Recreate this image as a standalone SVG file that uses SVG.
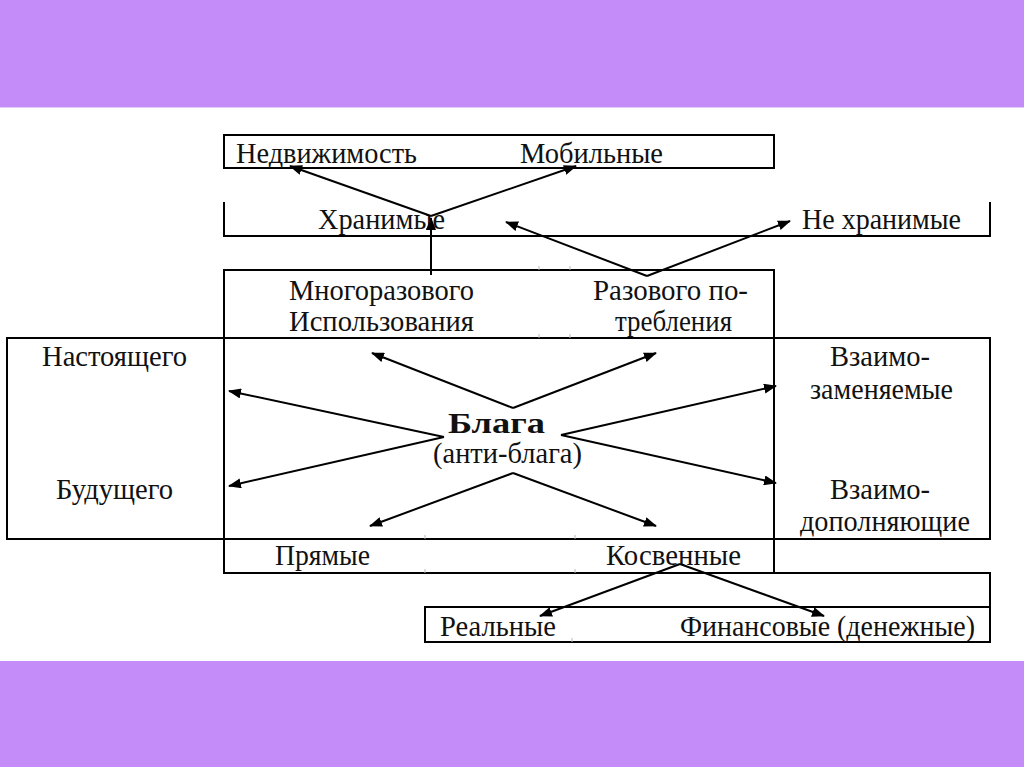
<svg xmlns="http://www.w3.org/2000/svg" width="1024" height="767" viewBox="0 0 1024 767">
<defs>
<style>
.band{fill:#c48cf8}
.grid{stroke:#000;stroke-width:2;fill:none}
.tick{stroke:#b8b8b8;stroke-width:1}
.t{font-family:"Liberation Serif","Times New Roman",serif;font-size:29px;fill:#111}
.b{font-weight:bold}
.c{stroke:#000;stroke-width:2;fill:none;marker-end:url(#ah)}
</style>
<marker id="ah" viewBox="0 0 13 10" refX="12" refY="5" markerWidth="13" markerHeight="10" markerUnits="userSpaceOnUse" orient="auto">
<path d="M0,0 L13,5 L0,10 Z" fill="#000"/>
</marker>
</defs>
<rect width="1024" height="767" fill="#fff"/>
<rect class="band" x="0" y="0" width="1024" height="107"/>
<line x1="0" y1="107.5" x2="1024" y2="107.5" stroke="#e2cbfb" stroke-width="1"/>
<rect class="band" x="0" y="661" width="1024" height="106"/>

<g id="frame">
<rect class="grid" x="224" y="135" width="550" height="33"/>
<path class="grid" d="M224,202 V236 H990 V202"/>
<path class="grid" d="M224,338 V270 H774 V338"/>
<rect class="grid" x="7" y="338" width="983" height="201"/>
<line class="grid" x1="224" y1="338" x2="224" y2="539"/>
<line class="grid" x1="774" y1="338" x2="774" y2="539"/>
<path class="grid" d="M224,539 V573 H990 V642 H425 V607 H990"/>
<line class="grid" x1="774" y1="539" x2="774" y2="573"/>
<g class="tick">
<line x1="539" y1="266" x2="539" y2="270"/><line x1="570" y1="266" x2="570" y2="270"/>
<line x1="539" y1="334" x2="539" y2="338"/><line x1="570" y1="334" x2="570" y2="338"/>
<line x1="425" y1="535" x2="425" y2="539"/><line x1="575" y1="535" x2="575" y2="539"/>
<line x1="425" y1="569" x2="425" y2="573"/><line x1="575" y1="569" x2="575" y2="573"/>
<line x1="572" y1="638" x2="572" y2="642"/>
</g>
</g>

<g id="n-nedvizh"><text class="t" x="236" y="163" textLength="181" lengthAdjust="spacingAndGlyphs">Недвижимость</text></g>
<g id="n-mobil"><text class="t" x="520" y="163" textLength="143" lengthAdjust="spacingAndGlyphs">Мобильные</text></g>
<g id="n-hran"><text class="t" x="318" y="229" textLength="127" lengthAdjust="spacingAndGlyphs">Хранимые</text></g>
<g id="n-nehran"><text class="t" x="802" y="229" textLength="159" lengthAdjust="spacingAndGlyphs">Не хранимые</text></g>
<g id="n-mnogo">
<text class="t" x="289" y="300" textLength="185" lengthAdjust="spacingAndGlyphs">Многоразового</text>
<text class="t" x="289" y="331" textLength="185" lengthAdjust="spacingAndGlyphs">Использования</text>
</g>
<g id="n-razov">
<text class="t" x="593" y="300" textLength="155" lengthAdjust="spacingAndGlyphs">Разового по-</text>
<text class="t" x="615" y="331" textLength="117" lengthAdjust="spacingAndGlyphs">требления</text>
</g>
<g id="n-nast"><text class="t" x="42" y="366" textLength="145" lengthAdjust="spacingAndGlyphs">Настоящего</text></g>
<g id="n-bud"><text class="t" x="56" y="499" textLength="117" lengthAdjust="spacingAndGlyphs">Будущего</text></g>
<g id="n-vzam">
<text class="t" x="830" y="366" textLength="100" lengthAdjust="spacingAndGlyphs">Взаимо-</text>
<text class="t" x="810" y="399" textLength="143" lengthAdjust="spacingAndGlyphs">заменяемые</text>
</g>
<g id="n-vdop">
<text class="t" x="830" y="499" textLength="100" lengthAdjust="spacingAndGlyphs">Взаимо-</text>
<text class="t" x="800" y="531" textLength="170" lengthAdjust="spacingAndGlyphs">дополняющие</text>
</g>
<g id="n-blaga">
<text class="t b" x="448" y="433" textLength="97" lengthAdjust="spacingAndGlyphs">Блага</text>
<text class="t" x="433" y="463" textLength="149" lengthAdjust="spacingAndGlyphs">(анти-блага)</text>
</g>
<g id="n-pryam"><text class="t" x="275" y="565" textLength="95" lengthAdjust="spacingAndGlyphs">Прямые</text></g>
<g id="n-kosv"><text class="t" x="606" y="565" textLength="135" lengthAdjust="spacingAndGlyphs">Косвенные</text></g>
<g id="n-real"><text class="t" x="440" y="636" textLength="116" lengthAdjust="spacingAndGlyphs">Реальные</text></g>
<g id="n-fin"><text class="t" x="680" y="636" textLength="295" lengthAdjust="spacingAndGlyphs">Финансовые (денежные)</text></g>

<g id="connectors">
<path class="c" d="M431,216 L290,166"/>
<path class="c" d="M431,216 L576,166"/>
<path class="c" d="M431,275 L431,218"/>
<path class="c" d="M647,276 L506,222"/>
<path class="c" d="M647,276 L790,221"/>
<path class="c" d="M513,408 L372,353"/>
<path class="c" d="M513,408 L656,353"/>
<path class="c" d="M444,437 L229,391"/>
<path class="c" d="M444,437 L229,486"/>
<path class="c" d="M561,435 L776,386"/>
<path class="c" d="M561,435 L776,483"/>
<path class="c" d="M513,473 L370,526"/>
<path class="c" d="M513,473 L656,526"/>
<path class="c" d="M680,564 L540,616"/>
<path class="c" d="M680,564 L824,616"/>
</g>
</svg>
